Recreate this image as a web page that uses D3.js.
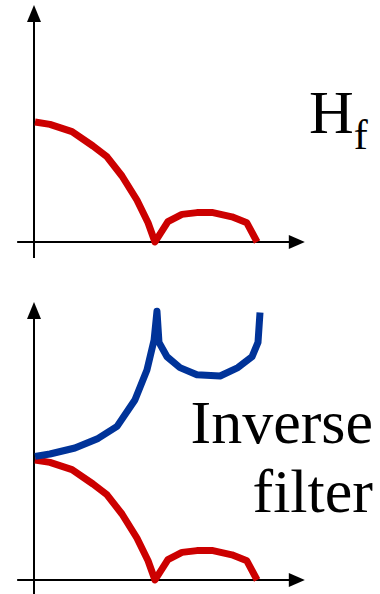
<!DOCTYPE html>
<html>
<head>
<meta charset="utf-8">
<script src="https://cdn.jsdelivr.net/npm/d3@7"></script>
<style>
  body { margin: 0; background: #fff; }
  svg { display: block; }
</style>
</head>
<body>
<div id="chart"></div>
<script>
// frequency positions (arbitrary units) and magnitudes
var redX = [0, 0.67, 1.66, 2.6, 3.23, 3.9, 4.57, 5.07, 5.38, 5.96, 6.59, 7.26, 7.98, 8.83, 9.5, 9.96];
var redY = [1.0, 0.98, 0.92, 0.8, 0.71, 0.55, 0.35, 0.16, 0, 0.17, 0.23, 0.245, 0.245, 0.21, 0.16, 0];

var blueX = [0, 0.67, 1.79, 2.83, 3.68, 4.48, 5.02, 5.34, 5.47, 5.56, 5.92, 6.5, 7.26, 8.3, 9.1, 9.73, 10.0, 10.09];
var blueY = [1.03, 1.05, 1.1, 1.18, 1.28, 1.5, 1.75, 2.0, 2.24, 1.98, 1.86, 1.77, 1.71, 1.70, 1.77, 1.86, 1.98, 2.23];

var width = 380, height = 594;
var serif = "'Liberation Serif'";

var svg = d3.select("#chart").append("svg")
    .attr("width", width)
    .attr("height", height);

//shared x scale, the curves end around 10
var x = d3.scaleLinear().domain([0, 10]).range([35, 258]);

var yTop = d3.scaleLinear().domain([0, 1]).range([242, 122]);
var yBot = d3.scaleLinear().domain([0, 1]).range([580, 460]);

var red = "#cc0000", blue = "#003399";

function drawAxes(y, topPx, bottomPx) {
    var g = svg.append("g");
    var x0 = x(0) - 1, y0 = y(0);
    var xEnd = x(12.1);
    // y axis
    g.append("line")
        .attr("x1", x0).attr("x2", x0)
        .attr("y1", bottomPx).attr("y2", topPx + 12)
        .attr("stroke", "#000").attr("stroke-width", 2);
    g.append("path")
        .attr("d", "M" + x0 + "," + topPx + "L" + (x0 + 7) + "," + (topPx + 17) + "L" + (x0 - 7) + "," + (topPx + 17) + "Z")
        .attr("fill", "#000");
    // x axis
    g.append("line")
        .attr("x1", x(-0.8)).attr("x2", xEnd - 12)
        .attr("y1", y0).attr("y2", y0)
        .attr("stroke", "#000").attr("stroke-width", 2);
    g.append("path")
        .attr("d", "M" + xEnd + "," + y0 + "L" + (xEnd - 16) + "," + (y0 - 7) + "L" + (xEnd - 16) + "," + (y0 + 7) + "Z")
        .attr("fill", "#000");
}

function drawCurve(xs, ys, y, color) {
    var pts = xs.map((d, i) => [d, ys[i]]);
    var line = d3.line()
        .x(d => x(d[0]))
        .y(d => y(d[1]));
    svg.append("path")
        .datum(pts)
        .attr("d", line)
        .attr("fill", "none")
        .attr("stroke", color)
        .attr("stroke-width", 7)
        .attr("stroke-linejoin", "round");
}

drawAxes(yTop, 5, 258);
drawCurve(redX, redY, yTop, red);

drawAxes(yBot, 302, 594);
drawCurve(redX, redY, yBot, red);
drawCurve(blueX, blueY, yBot, blue);

// labels
var hf = svg.append("text")
    .attr("x", 309)
    .attr("y", 133)
    .attr("font-size", 62)
    .style("font-family", serif);
hf.append("tspan").text("H");
hf.append("tspan").attr("dy", 16).attr("font-size", 42).text("f");

svg.append("text")
    .attr("x", 373).attr("y", 443)
    .attr("text-anchor", "end")
    .attr("font-size", 62)
    .style("font-family", serif)
    .text("Inverse");
svg.append("text")
    .attr("x", 373).attr("y", 512)
    .attr("text-anchor", "end")
    .attr("font-size", 62)
    .style("font-family", serif)
    .text("filter");
</script>
</body>
</html>
